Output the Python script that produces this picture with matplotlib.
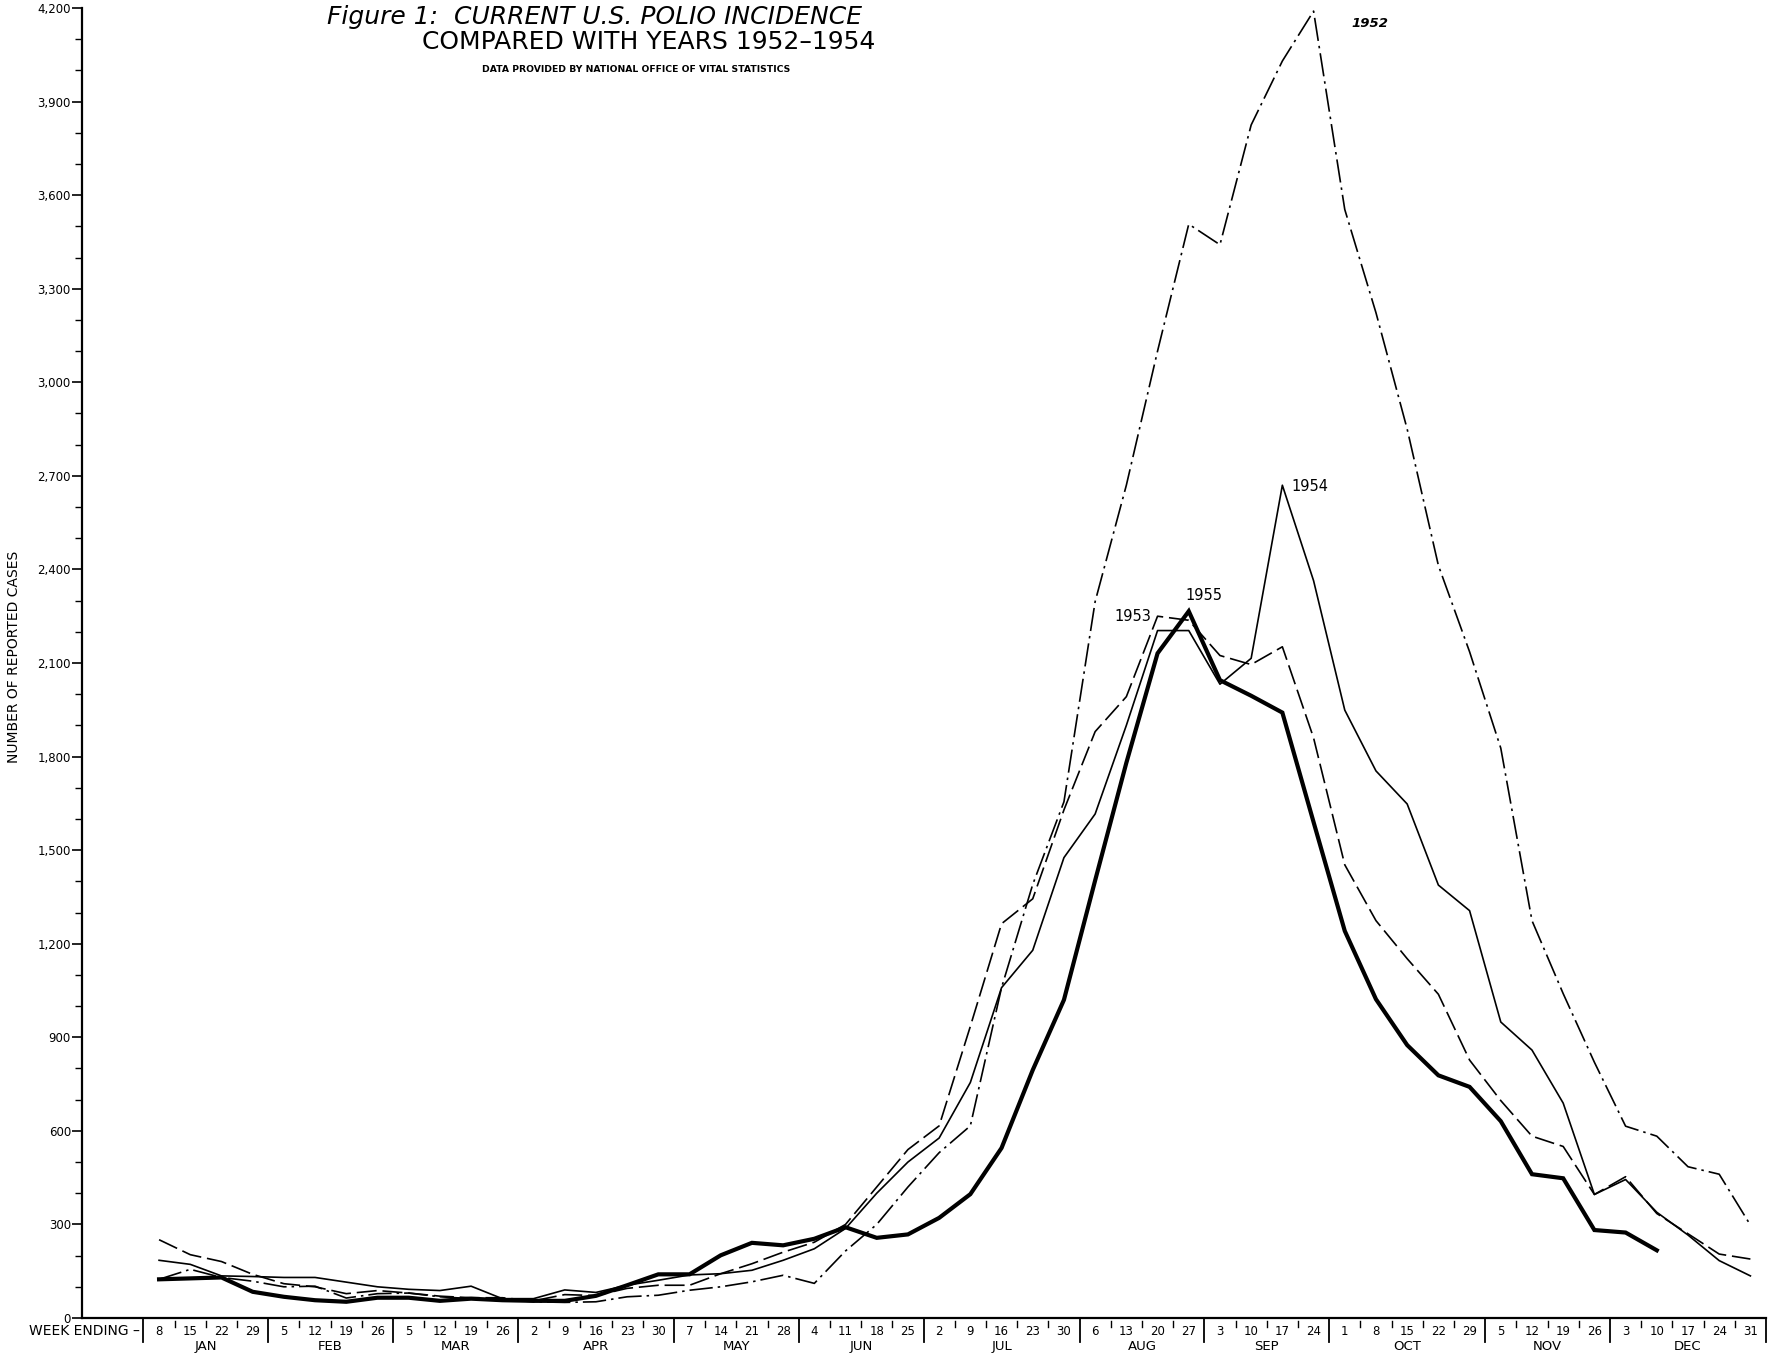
import numpy as np
import matplotlib.pyplot as plt

# week-ending days and months along the bottom axis
week_days = [8, 15, 22, 29, 5, 12, 19, 26, 5, 12, 19, 26, 2, 9, 16, 23, 30,
             7, 14, 21, 28, 4, 11, 18, 25, 2, 9, 16, 23, 30, 6, 13, 20, 27,
             3, 10, 17, 24, 1, 8, 15, 22, 29, 5, 12, 19, 26, 3, 10, 17, 24, 31]
months = ["JAN", "FEB", "MAR", "APR", "MAY", "JUN",
          "JUL", "AUG", "SEP", "OCT", "NOV", "DEC"]
weeks_per_month = [4, 4, 4, 5, 4, 4, 5, 4, 4, 5, 4, 5]

# weekly reported cases
cases_1952 = [124, 156, 130, 118, 100, 102, 64, 78, 80, 68, 62, 60, 52, 50, 52,
              68, 73, 89, 100, 116, 137, 111, 215, 300, 420, 530, 616, 1059,
              1390, 1655, 2297, 2670, 3100, 3507, 3441, 3825, 4030, 4190, 3554,
              3223, 2850, 2413, 2136, 1827, 1274, 1040, 820, 615, 583, 485, 461,
              298]
cases_1953 = [251, 203, 181, 140, 110, 100, 78, 88, 80, 70, 65, 65, 55, 75, 72,
              95, 105, 105, 142, 174, 211, 243, 300, 420, 540, 616, 935, 1264,
              1344, 1629, 1880, 1992, 2250, 2237, 2124, 2095, 2152, 1860, 1453,
              1274, 1152, 1038, 827, 697, 583, 550, 396, 453, 335, 270, 205, 189]
cases_1954 = [185, 172, 135, 133, 130, 130, 115, 100, 92, 88, 102, 62, 62, 90,
              82, 105, 121, 138, 142, 153, 185, 222, 287, 400, 500, 577, 755,
              1059, 1179, 1476, 1616, 1900, 2204, 2204, 2032, 2115, 2670, 2364,
              1949, 1754, 1648, 1388, 1306, 949, 859, 689, 396, 444, 339, 266,
              184, 135]
cases_1955 = [124, 127, 130, 84, 68, 57, 52, 65, 65, 55, 62, 57, 55, 55, 71,
              105, 140, 140, 201, 241, 233, 254, 291, 257, 268, 321, 397, 545,
              795, 1020, 1403, 1780, 2131, 2266, 2045, 1995, 1941, 1590, 1241,
              1022, 875, 778, 741, 631, 461, 448, 282, 274, 217]

W, H = 1778, 1354
fig = plt.figure(figsize=(W / 100, H / 100), dpi=100)
ax = fig.add_axes([82 / W, 36 / H, (1766 - 82) / W, 1310 / H])

x = np.arange(len(week_days))
ax.plot(x, cases_1952, color="black", lw=1.2, dashes=(14, 3, 1.5, 3))
ax.plot(x, cases_1953, color="black", lw=1.2, dashes=(12, 3.5))
ax.plot(x, cases_1954, color="black", lw=1.2)
ax.plot(x[:len(cases_1955)], cases_1955, color="black", lw=3.0,
        solid_joinstyle="miter")

ax.set_xlim(-2.47, 51.5)
ax.set_ylim(0, 4200)
for s in ["top", "right"]:
    ax.spines[s].set_visible(False)
ax.spines["left"].set_linewidth(1.6)
ax.spines["bottom"].set_linewidth(1.6)

ax.set_yticks(np.arange(0, 4201, 300))
ax.set_yticks(np.arange(0, 4201, 100), minor=True)
ax.set_yticklabels([f"{v:,}" for v in range(0, 4201, 300)])
ax.tick_params(axis="y", which="major", length=7, width=1.2, pad=1,
               labelsize=8.5)
ax.tick_params(axis="y", which="minor", length=5, width=1.0)
ax.set_xticks([])
ax.set_ylabel("NUMBER OF REPORTED CASES", fontsize=10)
ax.yaxis.set_label_coords(-0.036, 0.505)

# bottom axis: week cells and month blocks
tr = ax.get_xaxis_transform()
ax.plot([-0.5, -0.5], [0, -0.018], transform=tr, color="black", lw=1.3,
        clip_on=False)
start = 0
for m, n in zip(months, weeks_per_month):
    end = start + n
    ax.plot([end - 0.5, end - 0.5], [0, -0.018], transform=tr, color="black",
            lw=1.3, clip_on=False)
    for b in range(start + 1, end):
        ax.plot([b - 0.5, b - 0.5], [-0.002, -0.007], transform=tr,
                color="black", lw=1.0, clip_on=False)
    ax.text((start + end - 1) / 2, -0.0215, m, transform=tr, ha="center",
            va="center", fontsize=9.5)
    start = end
for i, d in enumerate(week_days):
    ax.text(i, -0.0100, str(d), transform=tr, ha="center", va="center",
            fontsize=8.5)
ax.text(-0.62, -0.0100, "WEEK ENDING \u2013", transform=tr, ha="right",
        va="center", fontsize=10)

# series labels
ax.text(38.2, 4150, "1952", fontsize=9.5, style="italic", fontweight="bold",
        va="center")
ax.text(36.3, 2665, "1954", fontsize=10.5, va="center")
ax.text(33.5, 2315, "1955", fontsize=10.5, va="center", ha="center")
ax.text(31.8, 2250, "1953", fontsize=10.5, va="center", ha="right")

fig.text(862 / W, 1 - 17 / H, "Figure 1:  CURRENT U.S. POLIO INCIDENCE",
         ha="right", va="center", fontsize=18, style="italic")
fig.text(875 / W, 1 - 42 / H, "COMPARED WITH YEARS 1952\u20131954",
         ha="right", va="center", fontsize=18)
fig.text(636 / W, 1 - 70 / H,
         "DATA PROVIDED BY NATIONAL OFFICE OF VITAL STATISTICS",
         ha="center", va="center", fontsize=6.7, fontweight="bold")

fig.savefig("out.png", dpi=100, facecolor="white")
